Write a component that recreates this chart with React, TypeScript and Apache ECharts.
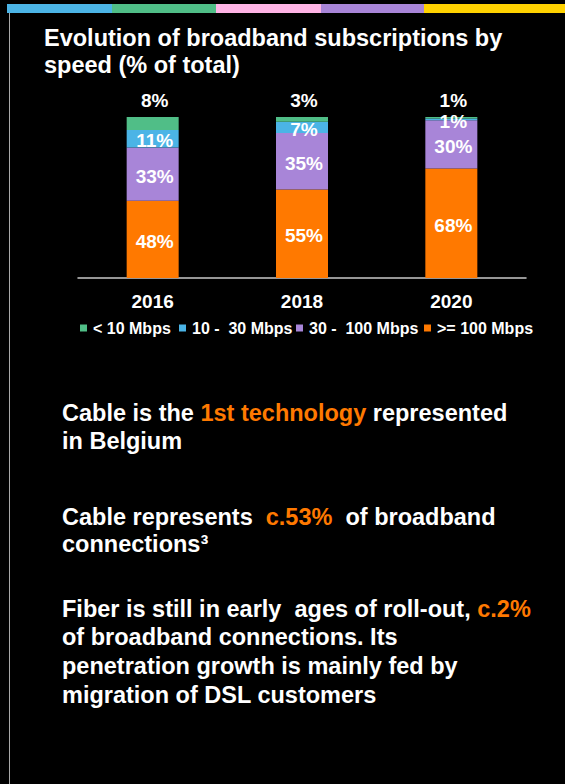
import React, { useEffect, useRef } from "react";
import * as echarts from "echarts";

const years = ["2016", "2018", "2020"];
const seriesNames = ["< 10 Mbps", "10 -  30 Mbps", "30 -  100 Mbps", ">= 100 Mbps"];
const lt10 = [8, 3, 1];
const mb10to30 = [11, 7, 1];
const mb30to100 = [33, 35, 30];
const ge100 = [48, 55, 68];

const titleLines = ["Evolution of broadband subscriptions by", "speed (% of total)"];

const COLORS = {
  green: "#50BE87",
  blue: "#4BB4E6",
  pink: "#FFB4E6",
  purple: "#A885D8",
  yellow: "#FFD200",
  orange: "#FF7900",
};

const FONT = "'Liberation Sans', Arial, Helvetica, sans-serif";
const BODY = 23.5;

export default function App() {
  const ref = useRef<HTMLDivElement>(null);

  useEffect(() => {
    if (!ref.current) return;
    const chart = echarts.init(ref.current, undefined, { renderer: "svg" });

    const textLine = (y: number, text: string, size = BODY) => ({
      type: "text",
      x: 62,
      y,
      style: {
        text,
        fill: "#fff",
        font: `bold ${size}px ${FONT}`,
        verticalAlign: "middle",
        rich: {
          w: { fill: "#fff", fontSize: size, fontWeight: "bold", fontFamily: FONT },
          o: { fill: COLORS.orange, fontSize: size, fontWeight: "bold", fontFamily: FONT },
        },
      },
    });

    const topBars = [
      { x0: 7, x1: 112, c: COLORS.blue },
      { x0: 112, x1: 216, c: COLORS.green },
      { x0: 216, x1: 321, c: COLORS.pink },
      { x0: 321, x1: 424, c: COLORS.purple },
      { x0: 424, x1: 565, c: COLORS.yellow },
    ];

    const insideLabel = {
      show: true,
      position: "inside",
      color: "#fff",
      fontSize: 19,
      fontWeight: "bold",
      fontFamily: FONT,
      offset: [2, 2],
      formatter: "{c}%",
    };

    const legendLefts = [80, 179, 296, 424];

    chart.setOption({
      animation: false,
      backgroundColor: "#000",
      grid: { left: 78, right: 39, top: 117, bottom: 506 },
      xAxis: {
        type: "category",
        data: years,
        axisLine: { show: true, lineStyle: { color: "#c8c8c8", width: 1.5 } },
        axisTick: { show: false },
        axisLabel: {
          color: "#fff",
          fontSize: 19,
          fontWeight: "bold",
          fontFamily: FONT,
          margin: 14,
        },
      },
      yAxis: { type: "value", min: 0, max: 100, show: false },
      legend: seriesNames.map((n, i) => ({
        data: [n],
        left: legendLefts[i],
        top: 320,
        icon: "rect",
        itemWidth: 7,
        itemHeight: 7,
        itemGap: 0,
        padding: 0,
        textStyle: { color: "#fff", fontSize: 16, fontWeight: "bold", fontFamily: FONT, padding: [0, 0, 0, 1] },
      })),
      series: [
        {
          name: seriesNames[3],
          type: "bar",
          stack: "s",
          barWidth: 52,
          data: ge100,
          itemStyle: { color: COLORS.orange },
          label: insideLabel,
        },
        {
          name: seriesNames[2],
          type: "bar",
          stack: "s",
          barWidth: 52,
          data: mb30to100,
          itemStyle: { color: COLORS.purple },
          label: insideLabel,
        },
        {
          name: seriesNames[1],
          type: "bar",
          stack: "s",
          barWidth: 52,
          data: mb10to30,
          itemStyle: { color: COLORS.blue },
          label: insideLabel,
        },
        {
          name: seriesNames[0],
          type: "bar",
          stack: "s",
          barWidth: 52,
          data: lt10,
          itemStyle: { color: COLORS.green },
          label: {
            show: true,
            position: "top",
            distance: 7,
            color: "#fff",
            fontSize: 19,
            fontWeight: "bold",
            fontFamily: FONT,
            offset: [2, 0],
            formatter: "{c}%",
          },
        },
      ],
      graphic: [
        ...topBars.map((b) => ({
          type: "rect",
          shape: { x: b.x0, y: 4, width: b.x1 - b.x0, height: 9 },
          style: { fill: b.c },
          silent: true,
        })),
        {
          type: "line",
          shape: { x1: 9.5, y1: 13, x2: 9.5, y2: 784 },
          style: { stroke: "#a8a8a8", lineWidth: 1 },
        },
        {
          type: "text",
          x: 44,
          y: 38,
          style: { text: titleLines[0], fill: "#fff", font: `bold 23.5px ${FONT}`, verticalAlign: "middle" },
        },
        {
          type: "text",
          x: 44,
          y: 65,
          style: { text: titleLines[1], fill: "#fff", font: `bold 23.5px ${FONT}`, verticalAlign: "middle" },
        },
        textLine(413, "{w|Cable is the }{o|1st technology}{w| represented}"),
        textLine(441, "{w|in Belgium}"),
        textLine(517, "{w|Cable represents  }{o|c.53%}{w|  of broadband}"),
        textLine(544, "{w|connections³}"),
        textLine(609, "{w|Fiber is still in early  ages of roll-out, }{o|c.2%}"),
        textLine(637, "{w|of broadband connections. Its}"),
        textLine(666, "{w|penetration growth is mainly fed by}"),
        textLine(695, "{w|migration of DSL customers}"),
      ],
    });

    return () => chart.dispose();
  }, []);

  return (
    <div
      ref={ref}
      style={{ position: "fixed", left: 0, top: 0, width: 565, height: 784, background: "#000" }}
    />
  );
}
